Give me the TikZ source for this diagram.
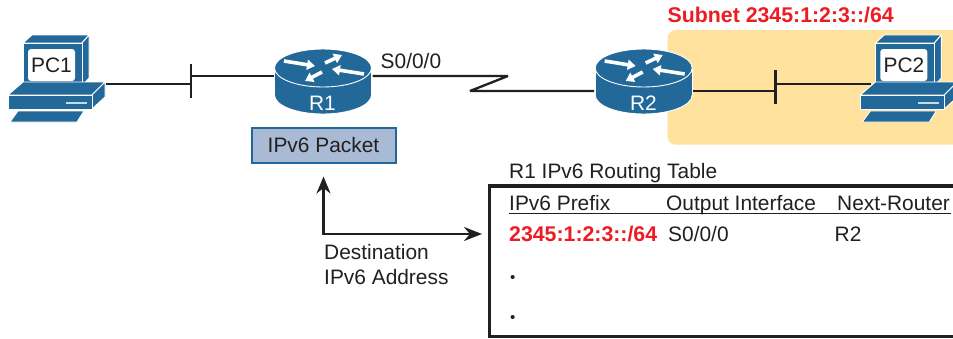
\documentclass[tikz,border=0pt]{standalone}
\usepackage{fontspec}
\setmainfont{Liberation Sans}
\usetikzlibrary{positioning,arrows.meta}
\definecolor{ciscoblue}{HTML}{22699A}
\definecolor{packetfill}{HTML}{A9BBD4}
\definecolor{subnetfill}{HTML}{FEE29E}
\definecolor{ink}{HTML}{231F20}
\definecolor{hilite}{HTML}{ED1C24}
\tikzset{
	wire/.style={ink,line width=2.3pt},
	txt/.style={anchor=base west,inner sep=0pt,text=ink,font=\fontsize{20.9}{24}\selectfont},
	redtxt/.style={anchor=base west,inner sep=0pt,text=hilite,font=\fontsize{21.3}{24}\selectfont\bfseries},
	pkt/.style={draw=ciscoblue,line width=2pt,fill=packetfill,minimum width=144pt,minimum height=35pt,inner sep=0pt,text=ink,font=\fontsize{20.9}{24}\selectfont},
	sheet/.style={fill=ciscoblue,draw=white,line width=0.9pt,line join=round},
	flow/.style={white,line width=3.6pt,-{Triangle[width=10pt,length=8pt]}},
	pcicon/.pic={
		\path[sheet] (23,43) -- (32,35) -- (89,35) -- (82,43) -- cycle;
		\path[sheet] (82,43) -- (89,35) -- (89,78) -- (82,86) -- cycle;
		\path[sheet] (23,43) rectangle (82,86);
		\fill[white,rounded corners=3pt] (28,49) rectangle (75,81);
		\path[sheet] (8,95) -- (23,82) -- (105,82) -- (92,95) -- cycle;
		\path[sheet] (92,95) -- (105,82) -- (105,97) -- (92,109) -- cycle;
		\path[sheet] (8,95) rectangle (92,109);
		\fill[white!75!ciscoblue] (66,102) rectangle (87,103.5);
		\path[sheet] (10,122) -- (18,111) -- (84,111) -- (77,122) -- cycle;
		\coordinate (-east) at (106,84);
		\coordinate (-west) at (19,84);
	},
	routericon/.pic={
		\path[sheet] (-48.5,0) -- (-48.5,27) -- (48.5,27) -- (48.5,0) -- cycle;
		\path[sheet] (0,27) circle[x radius=48.5,y radius=19];
		\fill[ciscoblue] (-48,0) rectangle (48,27);
		\path[sheet] (0,0) circle[x radius=48.5,y radius=19];
		\draw[flow] (-39,-7) -- (-8,-2);
		\draw[flow] (41,6) -- (9,1);
		\draw[flow] (2,-5) -- (19,-13);
		\draw[flow] (-1,4) -- (-18,13);
		\coordinate (-west) at (-49.5,8);
		\coordinate (-east) at (49.5,8);
	},
}
\begin{document}
\begin{tikzpicture}[x=1pt,y=-1pt]
	\clip (0,0) rectangle (953,338);
	\fill[white] (0,0) rectangle (953,338);
	% subnet area
	\fill[subnetfill,rounded corners=8pt] (667.7,30) rectangle (975,144.7);
	\node[redtxt] (subnetlabel) at (667.5,22) {Subnet 2345:1:2:3::/64};
	% devices
	\pic (PC1) at (0,0) {pcicon};
	\node[text=ink,font=\fontsize{20.9}{24}\selectfont,inner sep=0pt] (PC1label) at (51.5,65) {PC1};
	\pic (PC2) at (852.3,0) {pcicon};
	\node[text=ink,font=\fontsize{20.9}{24}\selectfont,inner sep=0pt] (PC2label) at (904,65) {PC2};
	\pic (R1) at (323,68) {routericon};
	\node[text=white,font=\fontsize{20.9}{24}\selectfont,inner sep=0pt] (R1label) at (322.5,103) {R1};
	\pic (R2) at (643.7,68) {routericon};
	\node[text=white,font=\fontsize{20.9}{24}\selectfont,inner sep=0pt] (R2label) at (643.5,103) {R2};
	% left lan
	\coordinate (barAtop) at (191,64);
	\coordinate (barAbot) at (191,98);
	\draw[wire] (barAtop) -- (barAbot);
	\draw[wire] (PC1-east) -- (PC1-east -| barAtop);
	\draw[wire] (R1-west |- 0,76) -- (barAtop |- 0,76);
	% right lan
	\coordinate (barBtop) at (775.5,70);
	\coordinate (barBbot) at (775.5,103.5);
	\draw[wire] (barBtop) -- (barBbot);
	\draw[wire] (R2-east |- 0,91) -- (barBtop |- 0,91);
	\draw[wire] (PC2-west) -- (PC2-west -| barBtop);
	% serial link
	\coordinate (zigA) at (508,76);
	\coordinate (zigB) at (470,91);
	\draw[wire,line join=bevel] (R1-east |- 0,76) -- (zigA) -- (zigB) -- (R2-west |- 0,91);
	\node[txt] (s000) at (380.5,68) {S0/0/0};
	% packet
	\node[pkt] (packet) at (323.5,145) {IPv6 Packet};
	\coordinate[below=13pt of packet] (uptip);
	\coordinate (righttip) at (482,234);
	\draw[wire,{Stealth[width=14pt,length=17pt]}-{Stealth[width=14pt,length=18pt]}] (uptip) |- (righttip);
	\node[txt] (dest) at (324,259) {Destination};
	\node[txt] (addr) at (324,284) {IPv6 Address};
	% table
	\node[txt] (tabletitle) at (509,178) {R1 IPv6 Routing Table};
	\draw[ink,line width=3.2pt] (489.6,186) rectangle (975,336.5);
	\node[txt] (hprefix) at (509,210.5) {IPv6 Prefix};
	\node[txt] (hiface) at (666,210.5) {Output Interface};
	\node[txt] (hnext) at (837,210.5) {Next-Router};
	\draw[ink,line width=1pt] (hprefix.base west) ++(0,2.8) -- (950.5,213.3);
	\node[redtxt] (prefix) at (509,241.7) {2345:1:2:3::/64};
	\node[txt] (iface) at (668,241.7) {S0/0/0};
	\node[txt] (next) at (834.5,241.7) {R2};
	\node[txt,font=\fontsize{15}{18}\selectfont] (dotA) at (510,282) {•};
	\node[txt,font=\fontsize{15}{18}\selectfont] (dotB) at (510,322) {•};
\end{tikzpicture}
\end{document}
